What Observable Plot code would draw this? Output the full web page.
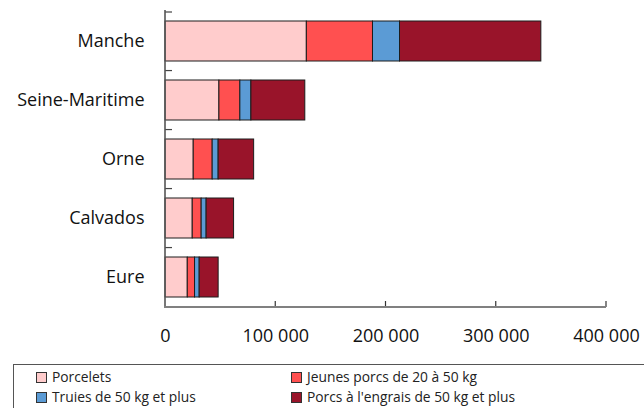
<!DOCTYPE html>
<html>
<head>
<meta charset="utf-8">
<script src="https://cdn.jsdelivr.net/npm/d3@7"></script>
<script src="https://cdn.jsdelivr.net/npm/@observablehq/plot@0.6"></script>
<style>
  html, body { margin: 0; padding: 0; background: #fff; overflow: hidden; width: 644px; height: 408px; }
  body { font-family: "Open Sans", sans-serif; position: relative; }
  #legend { position: absolute; left: 13px; top: 364px; width: 660px; height: 60px; border: 1px solid #555; box-sizing: border-box; }
  .item { position: absolute; font-size: 13.8px; color: #222; line-height: 20px; white-space: nowrap; }
  .sw { display: inline-block; width: 9px; height: 9px; border: 1px solid #333; margin-right: 5px; vertical-align: -1px; }
</style>
</head>
<body>
<div id="chart"></div>
<div id="legend"></div>
<script>
const departements = ["Manche", "Seine-Maritime", "Orne", "Calvados", "Eure"];
const series = ["Porcelets", "Jeunes porcs de 20 à 50 kg", "Truies de 50 kg et plus", "Porcs à l'engrais de 50 kg et plus"];
const colors = ["#FFCCCC", "#FF5050", "#5B9BD5", "#99142A"];
const porcelets = [128200, 48900, 25600, 24700, 20200];
const jeunes    = [60000, 19000, 17200, 8100, 6600];
const truies    = [24500, 10000, 5400, 4500, 4200];
const engrais   = [128200, 48900, 32200, 24900, 17200];
const xTicks = [0, 100000, 200000, 300000, 400000];

const values = [porcelets, jeunes, truies, engrais];
const data = [];
series.forEach((s, si) => departements.forEach((d, di) => data.push({dep: d, serie: s, value: values[si][di]})));

const fmt = v => d3.format(",")(v).replace(/,/g, "\u00a0");

const axes = (index, scales, vals, dim) => {
  const ns = "http://www.w3.org/2000/svg";
  const g = document.createElementNS(ns, "g");
  const x0 = dim.marginLeft, x1 = dim.width - dim.marginRight;
  const yTop = dim.marginTop, yBot = dim.height - dim.marginBottom;
  const y = scales.y;
  const step = y(departements[1]) - y(departements[0]);
  const bw = step * (1 - 0.32);
  const bounds = [yTop];
  for (let i = 1; i < departements.length; i++) bounds.push((y(departements[i - 1]) + bw + y(departements[i])) / 2);
  const line = (a, b, c, d, stroke, w) => {
    const l = document.createElementNS(ns, "line");
    l.setAttribute("x1", a); l.setAttribute("y1", b); l.setAttribute("x2", c); l.setAttribute("y2", d);
    l.setAttribute("stroke", stroke); l.setAttribute("stroke-width", w);
    g.appendChild(l);
  };
  bounds.forEach(b => line(x0, b, x0 + 7, b, "#444", 1.2));
  xTicks.slice(1).forEach(t => line(scales.x(t), yBot, scales.x(t), yBot - 6, "#333", 1.2));
  line(x0, yTop - 2, x0, yBot + 1, "#555", 1.6);
  line(x0 - 1, yBot, x1, yBot, "#808080", 1.8);
  return g;
};

const chart = Plot.plot({
  width: 644,
  height: 355,
  marginLeft: 165,
  marginRight: 38,
  marginTop: 12,
  marginBottom: 48,
  style: {fontFamily: "Open Sans, sans-serif", background: "#fff"},
  x: {domain: [0, 400000], ticks: xTicks, tickFormat: fmt},
  y: {domain: departements, paddingInner: 0.32, paddingOuter: 0.16},
  color: {domain: series, range: colors},
  marks: [
    Plot.ruleX(xTicks.slice(1), {stroke: "#cfcfcf", strokeWidth: 1.2, y1: null, insetTop: -2}),
    Plot.barX(data, {y: "dep", x: "value", fill: "serie", stroke: "#1c1c1c", strokeWidth: 1}),
    Plot.axisX({ticks: xTicks, tickFormat: fmt, tickSize: 0, tickPadding: 22, fontSize: 18, fill: "#111", label: null}),
    Plot.axisY({tickSize: 0, tickPadding: 21, fontSize: 18, fill: "#111", label: null}),
    axes
  ]
});
document.getElementById("chart").appendChild(chart);

const legend = document.getElementById("legend");
const pos = [[22, 2], [277, 2], [22, 22], [277, 22]];
series.forEach((s, i) => {
  const it = document.createElement("div");
  it.className = "item";
  it.style.left = pos[i][0] + "px";
  it.style.top = pos[i][1] + "px";
  const sw = document.createElement("span");
  sw.className = "sw";
  sw.style.background = colors[i];
  it.appendChild(sw);
  it.appendChild(document.createTextNode(s));
  legend.appendChild(it);
});
</script>
</body>
</html>
